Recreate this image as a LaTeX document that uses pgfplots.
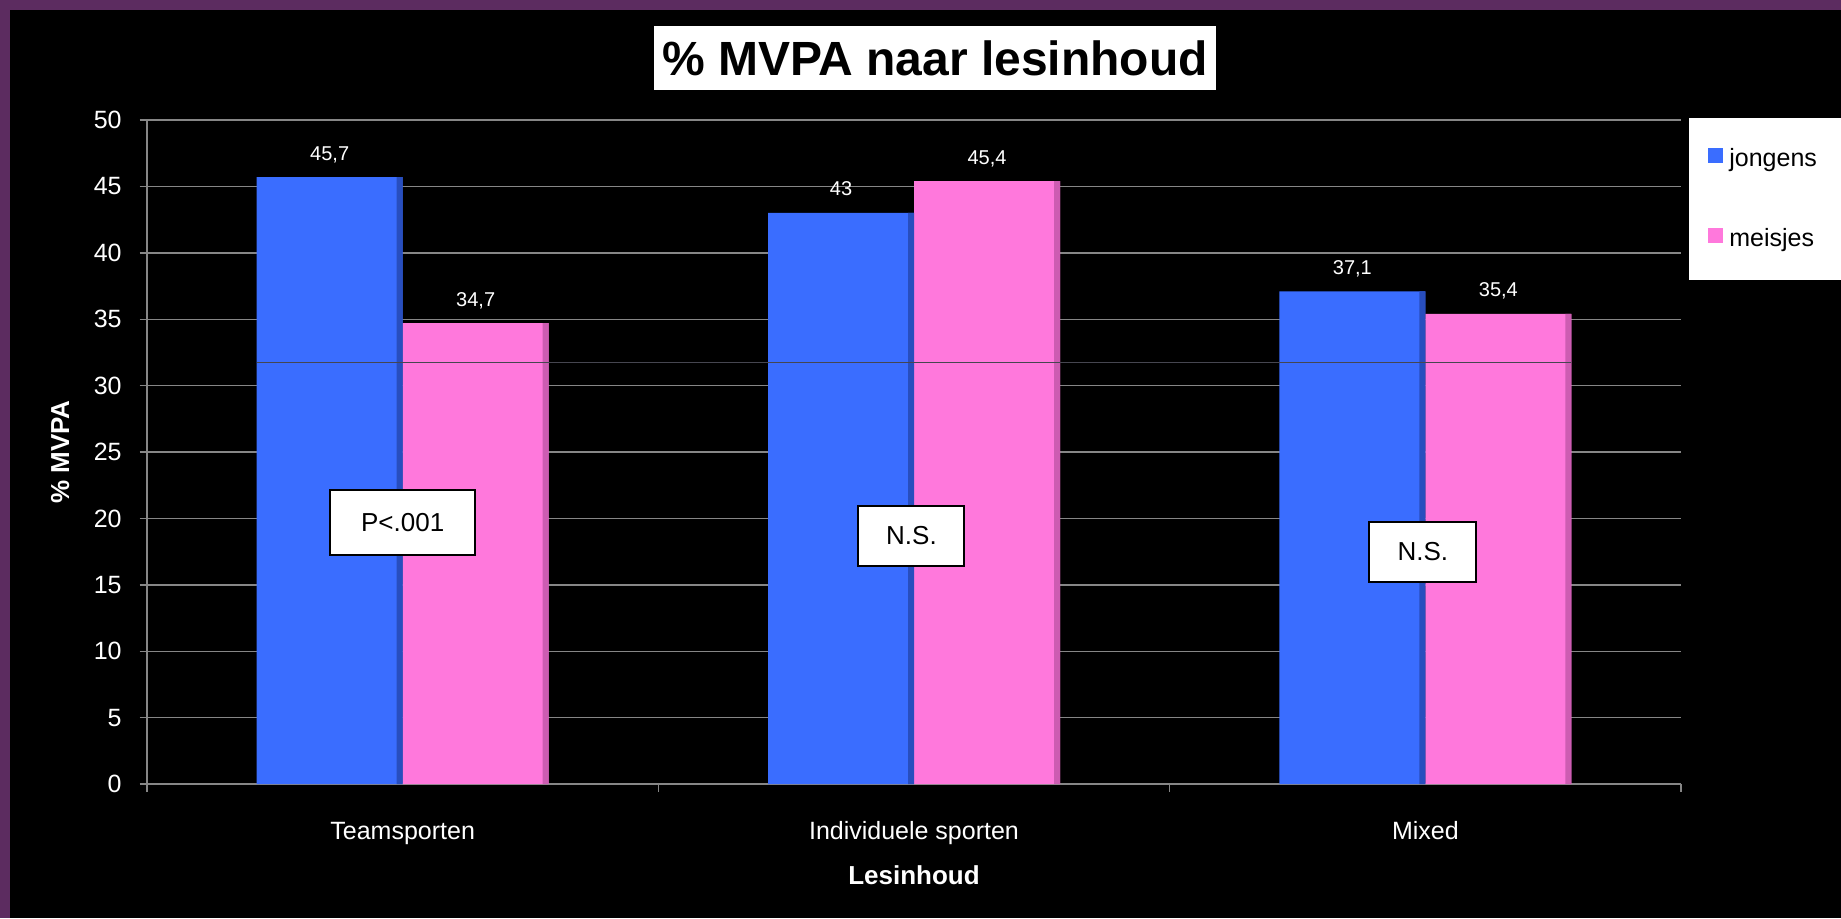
\documentclass[border=0pt]{standalone}
\usepackage{pgfplots}
\pgfplotsset{compat=1.18}
\usepackage{fontspec}
\setmainfont{Liberation Sans}
\definecolor{bgpurple}{RGB}{92,44,96}
\definecolor{barblue}{RGB}{58,109,255}
\definecolor{barpink}{RGB}{255,120,220}
\definecolor{blueedge}{RGB}{40,78,190}
\definecolor{pinkedge}{RGB}{205,92,178}
\definecolor{gridgray}{RGB}{134,134,134}
\definecolor{refline}{RGB}{70,70,80}
\begin{document}
\begin{tikzpicture}
\path[use as bounding box, fill=bgpurple] (0,0) rectangle (920.5pt,459pt);
\fill[black] (5pt,0) rectangle (920.5pt,454pt);
\node[fill=white, text=black, font=\fontsize{24}{28}\selectfont\bfseries,
      minimum width=281pt, minimum height=32pt, inner sep=0pt]
      at (467.5pt,430pt) {\% MVPA naar lesinhoud};
\begin{axis}[
  at={(73.5pt,67pt)}, anchor=south west,
  scale only axis, width=767pt, height=332pt,
  xmin=-0.5, xmax=2.5, ymin=0, ymax=50,
  axis x line*=bottom, axis y line*=left,
  axis line style={draw=gridgray, line width=0.7pt},
  xtick={0,1,2}, xticklabels={Teamsporten,Individuele sporten,Mixed},
  major x tick style={draw=none},
  minor xtick={-0.5,0.5,1.5,2.5},
  minor tick length=4pt,
  ytick={0,5,...,50},
  major tick length=3.7pt,
  tick align=outside,
  tick style={draw=gridgray, line width=0.7pt},
  ymajorgrids, grid style={draw=gridgray, line width=0.7pt},
  /pgf/number format/assume math mode=true,
  /pgf/number format/use comma,
  tick label style={font=\fontsize{12.5}{15}\selectfont, text=white},
  x tick label style={anchor=base, yshift=-24pt},
  y tick label style={anchor=east, inner sep=0pt, xshift=-8.8pt},
  xlabel={Lesinhoud}, ylabel={\% MVPA},
  every axis x label/.style={at={(axis description cs:0.5,-0.152)}, anchor=base,
     font=\fontsize{13}{15}\selectfont\bfseries, text=white},
  every axis y label/.style={at={(axis description cs:-0.0508,0.5)}, rotate=90, anchor=base,
     font=\fontsize{13}{15}\selectfont\bfseries, text=white},
  legend style={at={(axis description cs:1.00521,1.003)}, anchor=north west,
     fill=white, draw=none, inner xsep=9.5pt, inner ysep=15pt, row sep=29pt,
     font=\fontsize{12.5}{15}\selectfont, text=black,
     nodes={inner sep=0pt, text width=52pt, align=left},
     /tikz/column 1/.style={column sep=3pt}},
  legend cell align=left,
  clip=false,
]
\addplot[ybar, bar width=73pt, bar shift=-36.5pt, fill=barblue, draw=none,
  nodes near coords,
  every node near coord/.append style={text=white, font=\fontsize{10}{12}\selectfont, anchor=base, yshift=8.5pt, xshift=-36.5pt},
  legend image code/.code={\fill[barblue] (0pt,-2pt) rectangle (7.5pt,5.5pt);}]
  coordinates {(0,45.7) (1,43) (2,37.1)};
\addplot[ybar, bar width=73pt, bar shift=36.5pt, fill=barpink, draw=none,
  nodes near coords,
  every node near coord/.append style={text=white, font=\fontsize{10}{12}\selectfont, anchor=base, yshift=8.5pt, xshift=36.5pt},
  legend image code/.code={\fill[barpink] (0pt,-2pt) rectangle (7.5pt,5.5pt);}]
  coordinates {(0,34.7) (1,45.4) (2,35.4)};
\legend{jongens,meisjes}
% darker right edge of each bar (bevel)
\addplot[forget plot, ybar, bar width=3pt, bar shift=-1.5pt, fill=blueedge, draw=none]
  coordinates {(0,45.7) (1,43) (2,37.1)};
\addplot[forget plot, ybar, bar width=3pt, bar shift=71.5pt, fill=pinkedge, draw=none]
  coordinates {(0,34.7) (1,45.4) (2,35.4)};
\addplot[forget plot, sharp plot, no markers, draw=refline, line width=0.5pt]
  coordinates {(-0.2855,31.75) (2.2855,31.75)};
\node[draw=black, fill=white, line width=1pt, minimum width=72.5pt, minimum height=32.5pt,
      inner sep=0pt, font=\fontsize{13}{15}\selectfont, text=black] at (axis cs:0,19.7) {P<.001};
\node[draw=black, fill=white, line width=1pt, minimum width=53pt, minimum height=30pt,
      inner sep=0pt, font=\fontsize{13}{15}\selectfont, text=black] at (axis cs:0.995,18.7) {N.S.};
\node[draw=black, fill=white, line width=1pt, minimum width=53.5pt, minimum height=30pt,
      inner sep=0pt, font=\fontsize{13}{15}\selectfont, text=black] at (axis cs:1.995,17.5) {N.S.};
\end{axis}
\end{tikzpicture}
\end{document}
